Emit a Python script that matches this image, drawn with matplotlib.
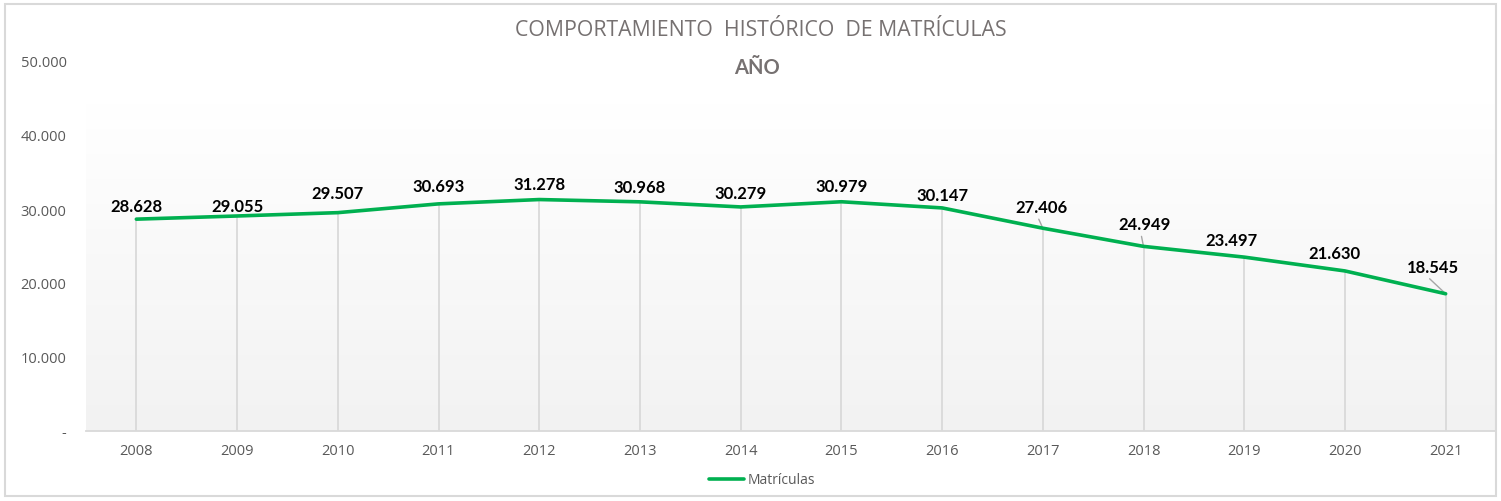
import matplotlib
matplotlib.use("Agg")
import matplotlib.pyplot as plt
import numpy as np
from matplotlib.colors import LinearSegmentedColormap
from matplotlib.patches import Rectangle

years = ["2008", "2009", "2010", "2011", "2012", "2013", "2014",
         "2015", "2016", "2017", "2018", "2019", "2020", "2021"]
matriculas = [28628, 29055, 29507, 30693, 31278, 30968, 30279,
              30979, 30147, 27406, 24949, 23497, 21630, 18545]
value_labels = ["28.628", "29.055", "29.507", "30.693", "31.278", "30.968", "30.279",
                "30.979", "30.147", "27.406", "24.949", "23.497", "21.630", "18.545"]
yticks = [0, 10000, 20000, 30000, 40000, 50000]
ytick_labels = ["-", "10.000", "20.000", "30.000", "40.000", "50.000"]

# label offsets in pixels (dx, dy) and whether a leader line is drawn
offsets = [(0, 13), (0, 10), (0, 20), (0, 18), (0, 16), (0, 15), (0, 14),
           (0, 16), (0, 13), (-1, 21), (1, 22), (-13, 17), (-10, 18), (-13, 27)]
leaders = [False]*9 + [True, True, False, False, True]

plt.rcParams['font.family'] = ['Open Sans', 'DejaVu Sans']
PX = 0.72  # points per pixel at 100 dpi

fig = plt.figure(figsize=(15.01, 5.02), dpi=100)
fig.patch.set_facecolor("white")
fig.add_artist(Rectangle((5/1501, 5/502), 1491/1501, 492/502, transform=fig.transFigure,
                         fill=False, edgecolor="#d9d9d9", linewidth=1.5))

ax = fig.add_axes([86/1501, (502-432)/502, 1410/1501, 370/502])
ax.set_facecolor("none")
x = np.arange(len(years))
ax.set_xlim(-0.5, len(years) - 0.5)
ax.set_ylim(0, 50000)

cmap = LinearSegmentedColormap.from_list("g", ["#f2f2f2", "#ffffff"])
grad = np.linspace(0, 1, 256).reshape(-1, 1)
ax.imshow(grad, cmap=cmap, origin="lower", aspect="auto",
          extent=[-0.5, len(years) - 0.5, 0, 44200], zorder=0)

ax.vlines(x, 0, matriculas, color="#d9d9d9", linewidth=1.3, zorder=1)
line, = ax.plot(x, matriculas, color="#00b050", linewidth=2.6, zorder=3,
                solid_capstyle="round", label="Matrículas")

for xi, v, lab, (dx, dy), ld in zip(x, matriculas, value_labels, offsets, leaders):
    ax.annotate(lab, xy=(xi, v), xytext=(dx*PX, dy*PX), textcoords="offset points",
                ha="center", va="center", fontsize=12, fontweight="bold", color="#000000",
                family=["Lato", "DejaVu Sans"], zorder=4)
    if ld:
        ax.annotate("", xy=(xi, v), xytext=((dx - 3)*PX, (dy - 12)*PX), textcoords="offset points",
                    arrowprops=dict(arrowstyle="-", color="#a6a6a6", lw=1.0,
                                    shrinkA=0, shrinkB=0), zorder=2)

ax.set_xticks(x)
ax.set_xticklabels(years)
ax.set_yticks(yticks)
ax.set_yticklabels(ytick_labels)
ax.tick_params(axis="both", length=0, labelsize=10.5, colors="#595959")
ax.tick_params(axis="y", pad=14)
ax.tick_params(axis="x", pad=9)
for s in ["top", "right", "left"]:
    ax.spines[s].set_visible(False)
ax.spines["bottom"].set_color("#d9d9d9")
ax.spines["bottom"].set_linewidth(1.3)

fig.text(761/1501, 1 - 31/502, "COMPORTAMIENTO  HISTÓRICO  DE MATRÍCULAS", ha="center", va="center",
         fontsize=15.3, color="#767171")
fig.text(757/1501, 1 - 68/502, "AÑO", ha="center", va="center",
         fontsize=14.5, fontweight="bold", color="#767171", family=["Lato", "DejaVu Sans"])

leg = fig.legend(handles=[line], loc="center", bbox_to_anchor=(762/1501, 1 - 481/502),
                 frameon=False, fontsize=10, handlelength=2.5, handletextpad=0.3)
for t in leg.get_texts():
    t.set_color("#595959")

fig.savefig("out.png", dpi=100)
